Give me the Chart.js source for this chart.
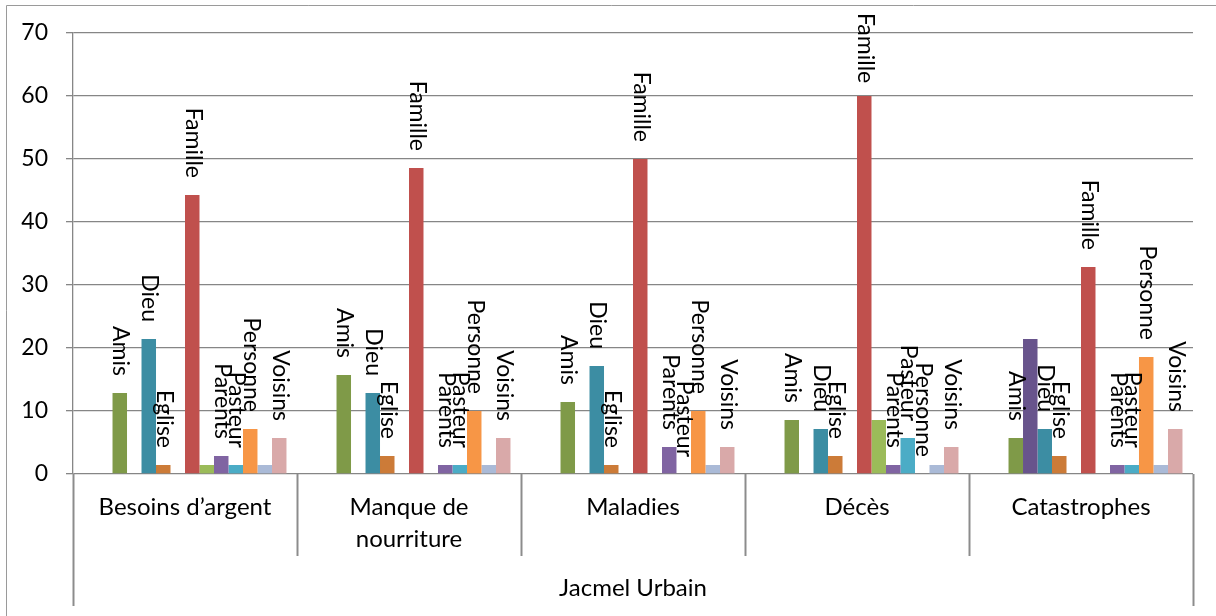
<!DOCTYPE html>
<html>
<head>
  <meta charset="UTF-8" />
  <title>Jacmel Urbain</title>
  <style>
    body{margin:0;background:#fff;}
    #chart{display:block;}
  </style>
  <script src="https://cdn.jsdelivr.net/npm/chart.js@4.4.0/dist/chart.umd.min.js"></script>
</head>
<body>
  <canvas id="chart" width="1216" height="616"></canvas>
  <script>
    // categories on the x axis, with the group label under them
    const categories=['Besoins d\u2019argent',['Manque de','nourriture'],'Maladies','D\u00e9c\u00e8s','Catastrophes'];
    const groupLabel='Jacmel Urbain';
    const yTicks=[0,10,20,30,40,50,60,70];

    // one array per series (percent), in bar order; null = empty slot
    const emptyA=[null,null,null,null,null];
    const emptyB=[null,null,null,null,null];
    const amis=[12.86,15.71,11.43,8.57,5.71];
    const autreA=[0,0,0,0,21.43];
    const dieu=[21.43,12.86,17.14,7.14,7.14];
    const eglise=[1.43,2.86,1.43,2.86,2.86];
    const emptyC=[null,null,null,null,null];
    const famille=[44.29,48.57,50,60,32.86];
    const autreB=[1.43,0,0,8.57,0];
    const parents=[2.86,1.43,4.29,1.43,1.43];
    const pasteur=[1.43,1.43,0,5.71,1.43];
    const personne=[7.14,10,10,0,18.57];
    const autreC=[1.43,1.43,1.43,1.43,1.43];
    const voisins=[5.71,5.71,4.29,4.29,7.14];

    const series=[
      {name:'',data:emptyA,color:'#ffffff'},
      {name:'',data:emptyB,color:'#ffffff'},
      {name:'Amis',data:amis,color:'#7f9a48'},
      {name:'',data:autreA,color:'#68548c'},
      {name:'Dieu',data:dieu,color:'#3c8da3'},
      {name:'Eglise',data:eglise,color:'#cc7b38'},
      {name:'',data:emptyC,color:'#ffffff'},
      {name:'Famille',data:famille,color:'#c0504d'},
      {name:'',data:autreB,color:'#9bbb59'},
      {name:'Parents',data:parents,color:'#8064a2'},
      {name:'Pasteur',data:pasteur,color:'#4bacc6'},
      {name:'Personne',data:personne,color:'#f79646'},
      {name:'',data:autreC,color:'#aabad7'},
      {name:'Voisins',data:voisins,color:'#d9a9a9'}
    ];

    const FONT='Lato, "Open Sans", sans-serif';
    const GRID='#868686';

    // rotated series-name labels above each bar
    const barLabels={
      id:'barLabels',
      afterDatasetsDraw(chart){
        const ctx=chart.ctx;
        ctx.save();
        ctx.font='23px '+FONT;
        ctx.fillStyle='#000';
        ctx.textAlign='right';
        ctx.textBaseline='middle';
        chart.data.datasets.forEach((ds,i)=>{
          if(!ds.label) return;
          const meta=chart.getDatasetMeta(i);
          meta.data.forEach((bar,j)=>{
            if(ds.data[j]===null) return;
            const w=ctx.measureText(ds.label).width;
            const end=Math.max(bar.y-17,13+w);
            ctx.save();
            ctx.translate(bar.x+1,end);
            ctx.rotate(Math.PI/2);
            ctx.fillText(ds.label,0,0);
            ctx.restore();
          });
        });
        ctx.restore();
      }
    };

    // two-level category axis and outer frame
    const catAxis={
      id:'catAxis',
      afterDraw(chart){
        const ctx=chart.ctx, x=chart.scales.x, a=chart.chartArea;
        const n=categories.length, step=(a.right-a.left)/n;
        ctx.save();
        ctx.strokeStyle='#9a9a9a';
        ctx.lineWidth=1;
        ctx.beginPath();
        ctx.moveTo(6.5,616);ctx.lineTo(6.5,5.5);ctx.lineTo(1216,5.5);
        ctx.stroke();
        ctx.strokeStyle='#8c8c8c';
        ctx.lineWidth=2;
        for(let i=0;i<=n;i++){
          const px=Math.round(a.left+i*step)+0.5;
          const outer=(i===0||i===n);
          ctx.beginPath();
          ctx.moveTo(px,a.bottom);
          ctx.lineTo(px,outer?606:556);
          ctx.stroke();
        }
        ctx.fillStyle='#000';
        ctx.font='24px '+FONT;
        ctx.textAlign='center';
        ctx.textBaseline='middle';
        categories.forEach((c,i)=>{
          const cx=x.getPixelForValue(i);
          const lines=Array.isArray(c)?c:[c];
          lines.forEach((t,k)=>ctx.fillText(t,cx,507+k*32));
        });
        ctx.fillText(groupLabel,(a.left+a.right)/2,588);
        ctx.restore();
      }
    };

    new Chart(document.getElementById('chart'),{
      type:'bar',
      data:{
        labels:categories.map(c=>Array.isArray(c)?c.join(' '):c),
        datasets:series.map(s=>({label:s.name,data:s.data,backgroundColor:s.color,borderWidth:0}))
      },
      options:{
        responsive:false,
        animation:false,
        layout:{padding:{left:0,top:33,right:23,bottom:142}},
        datasets:{bar:{categoryPercentage:0.906,barPercentage:1}},
        plugins:{legend:{display:false},tooltip:{enabled:false}},
        scales:{
          x:{display:false},
          y:{
            min:0,max:70,
            afterFit(s){s.width=73;},
            afterBuildTicks(s){s.ticks=yTicks.map(v=>({value:v}));},
            grid:{color:GRID,lineWidth:1.3,tickLength:7,tickColor:GRID},
            border:{display:true,color:GRID,width:1.3},
            ticks:{color:'#000',padding:18,font:{family:FONT,size:23}}
          }
        }
      },
      plugins:[barLabels,catAxis]
    });
  </script>
</body>
</html>
